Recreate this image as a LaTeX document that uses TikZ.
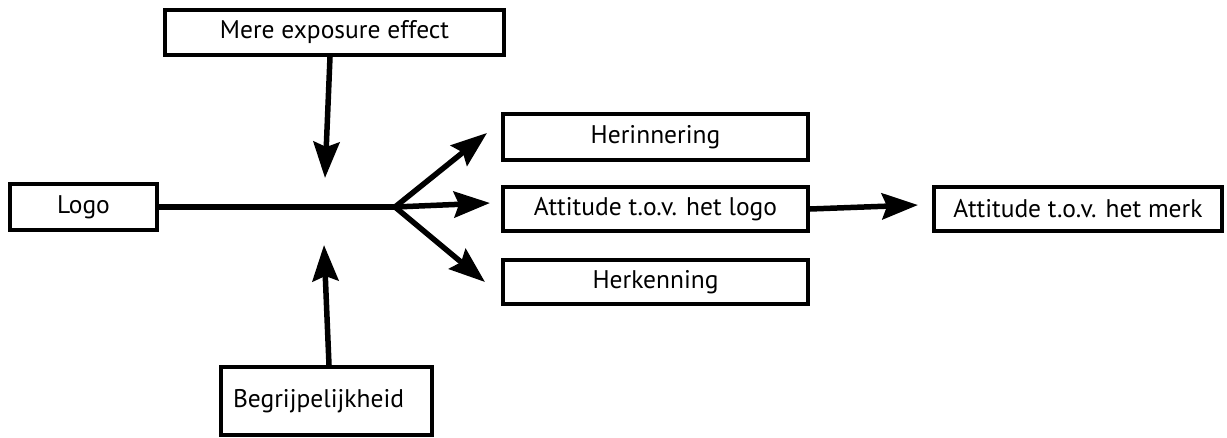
\documentclass[tikz,border=0pt]{standalone}
\usepackage{fontspec}
\setmainfont{PT Sans}
\usetikzlibrary{arrows.meta}
\begin{document}
\begin{tikzpicture}[x=1pt,y=-1pt,
  box/.style={draw=black,line width=3.8pt,inner sep=0pt,font=\fontsize{25.5}{28}\selectfont,text=black},
  link/.style={line width=5.5pt,draw=black},
  arr/.style={link,-{Stealth[length=36pt,width=26pt,inset=5pt]}}]
\useasboundingbox (0,0) rectangle (1227,437);
\node[box,minimum width=339pt,minimum height=45pt] (mere) at (334.5,32.5) {Mere exposure effect};
\node[box,minimum width=147pt,minimum height=46pt] (logo) at (83.5,207) {Logo};
\node[box,minimum width=305pt,minimum height=46pt] (herin) at (655.5,137) {Herinnering};
\node[box,minimum width=305pt,minimum height=44pt] (attl) at (655.5,209) {Attitude t.o.v. het logo};
\node[box,minimum width=305pt,minimum height=44pt] (herk) at (655.5,282) {Herkenning};
\node[box,minimum width=288pt,minimum height=44pt] (attm) at (1078,209) {Attitude t.o.v. het merk};
\node[box,minimum width=211pt,minimum height=68pt,text width=187pt,align=left,inner xsep=12pt] (begr) at (326.5,401) {Begrijpelijkheid};
\coordinate (j) at (395,207);
\coordinate (t1) at (487,133);
\coordinate (t2) at (490,203);
\coordinate (t3) at (485,282);
\coordinate (tm) at (325,178);
\coordinate (tb) at (324,245);
\coordinate (ta) at (918,205);
\draw[link] (logo.east) -- (j);
\draw[arr] (j) -- (t1);
\draw[arr] (j) -- (t2);
\draw[arr] (j) -- (t3);
\draw[arr] (mere.south -| 330,0) -- (tm);
\draw[arr] (begr.north -| 329,0) -- (tb);
\draw[arr] (attl.east) -- (ta);
\end{tikzpicture}
\end{document}
